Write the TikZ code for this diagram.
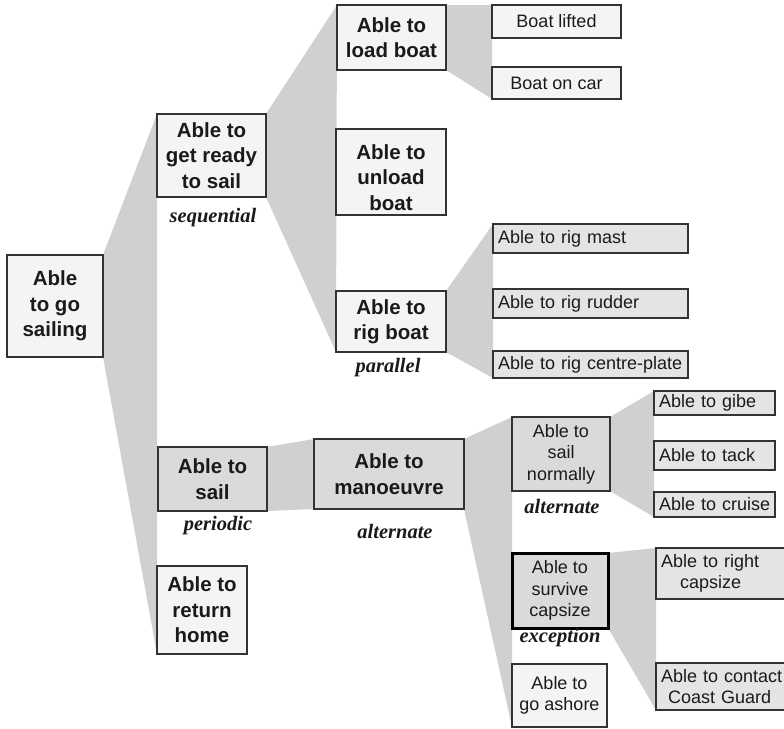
\documentclass[tikz,border=0pt]{standalone}
\usepackage{fontspec}
\setmainfont{Liberation Sans}
\newfontfamily\lblfont{Liberation Serif}
\usetikzlibrary{backgrounds}
\definecolor{wedgegray}{HTML}{D0D0D0}
\definecolor{lightfill}{HTML}{F4F4F4}
\definecolor{midfill}{HTML}{E4E4E4}
\definecolor{darkfill}{HTML}{DADADA}
\definecolor{edge}{HTML}{333333}
\definecolor{ink}{HTML}{1A1A1A}
\newcommand\mybox[7]{%
  \pgfmathsetmacro\bw{#5-#3}\pgfmathsetmacro\bh{#6-#4}%
  \node[#2, minimum width=\bw pt, minimum height=\bh pt, anchor=north west] (#1) at (#3,#4) {#7};}
\tikzset{
  basebox/.style={draw=edge, line width=1.1pt, inner sep=0pt, outer sep=0pt, text=ink},
  bigbox/.style={basebox, font=\bfseries\fontsize{20.5}{25.5}\selectfont, align=center},
  smallbox/.style={basebox, font=\fontsize{18}{21.5}\selectfont, align=center},
  leftbox/.style={smallbox, align=left, inner xsep=5pt, text width=\bw pt-10pt},
  wedge/.style={fill=wedgegray, draw=none},
  lbl/.style={font=\lblfont\bfseries\itshape\fontsize{20.5}{24}\selectfont, text=ink, inner sep=0pt}
}
\begin{document}
\begin{tikzpicture}[x=1pt,y=-1pt]
\useasboundingbox (0,0) rectangle (784,728);
\clip (0,0) rectangle (784,728);

% boxes
\mybox{root}{bigbox, fill=lightfill}{7}{255}{103}{357}{Able\\to go\\sailing}
\mybox{ready}{bigbox, fill=lightfill}{157}{114}{266}{197}{Able to\\get ready\\to sail}
\mybox{load}{bigbox, fill=lightfill}{337}{5}{446}{70}{Able to\\load boat}
\mybox{unload}{bigbox, fill=lightfill}{336}{129}{446}{215}{\rule{0pt}{26pt}Able to\\unload\\boat}
\mybox{rig}{bigbox, fill=lightfill}{336}{291}{446}{352}{Able to\\rig boat}
\mybox{lifted}{smallbox, fill=lightfill}{492}{5}{621}{38}{Boat lifted}
\mybox{car}{smallbox, fill=lightfill}{492}{67}{621}{99}{Boat on car}
\mybox{mast}{leftbox, fill=midfill}{493}{224}{688}{253}{\mbox{Able to rig mast}}
\mybox{rudder}{leftbox, fill=midfill}{493}{289}{688}{318}{\mbox{Able to rig rudder}}
\mybox{plate}{leftbox, fill=midfill}{493}{351}{688}{378}{\mbox{Able to rig centre-plate}}
\mybox{sail}{bigbox, fill=darkfill}{158}{447}{267}{511}{Able to\\sail}
\mybox{man}{bigbox, fill=darkfill}{314}{439}{464}{509}{Able to\\manoeuvre}
\mybox{home}{bigbox, fill=lightfill}{157}{566}{247}{654}{Able to\\return\\home}
\mybox{normally}{smallbox, fill=darkfill}{512}{417}{610}{491}{Able to\\sail\\normally}
\mybox{gibe}{leftbox, fill=midfill}{654}{391}{775}{415}{\mbox{Able to gibe}}
\mybox{tack}{leftbox, fill=midfill}{654}{441}{775}{470}{\mbox{Able to tack}}
\mybox{cruise}{leftbox, fill=midfill}{654}{492}{775}{517}{\mbox{Able to cruise}}
\mybox{survive}{smallbox, fill=darkfill, draw=black, line width=3pt}{512}{553}{608}{628}{Able to\\survive\\capsize}
\mybox{rightcap}{leftbox, fill=midfill}{656}{548}{790}{599}{Able to right\\\hspace*{19pt}capsize}
\mybox{coast}{leftbox, fill=midfill}{656}{663}{790}{710}{Able to contact\\\hspace*{7pt}Coast Guard}
\mybox{ashore}{smallbox, fill=lightfill}{512}{664}{607}{727}{Able to\\go ashore}

% labels
\node[lbl] (lseq) at (213,218) {sequential};
\node[lbl] (lpar) at (388,368) {parallel};
\node[lbl] (lper) at (218,526) {periodic};
\node[lbl] (lalt) at (395,531) {alternate};
\node[lbl] (lalt2) at (562,506) {alternate};
\node[lbl] (lexc) at (560,638) {exception};

% wedges
\begin{scope}[on background layer]
\fill[wedge] (root.north east) -- (ready.north west) -- (home.south west) -- (root.south east) -- cycle;
\fill[wedge] (ready.north east) -- (load.north west) -- (rig.south west) -- (ready.south east) -- cycle;
\fill[wedge] (load.north east) -- (lifted.north west) -- (car.south west) -- (load.south east) -- cycle;
\fill[wedge] (rig.north east) -- (mast.north west) -- (plate.south west) -- (rig.south east) -- cycle;
\fill[wedge] (sail.north east) -- (man.north west) -- (man.south west) -- (sail.south east) -- cycle;
\fill[wedge] (man.north east) -- (normally.north west) -- (ashore.south west) -- (man.south east) -- cycle;
\fill[wedge] (normally.north east) -- (gibe.north west) -- (cruise.south west) -- (normally.south east) -- cycle;
\fill[wedge] (survive.north east) -- (rightcap.north west) -- (coast.south west) -- (survive.south east) -- cycle;
\end{scope}
\end{tikzpicture}
\end{document}
